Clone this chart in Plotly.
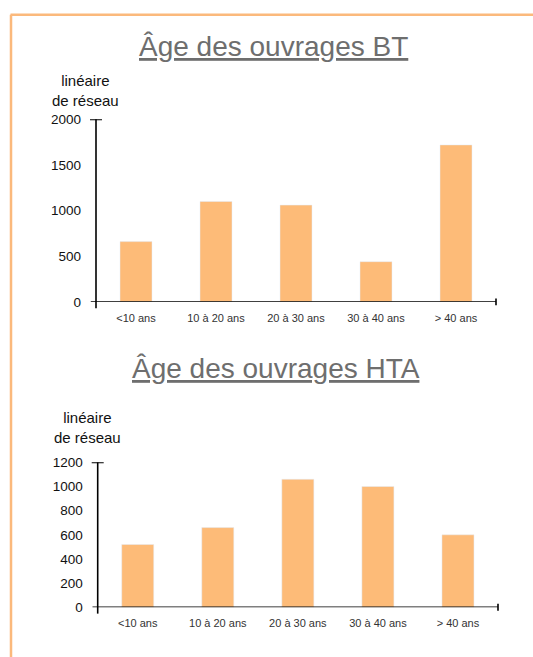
import plotly.graph_objects as go

categories = ["<10 ans", "10 à 20 ans", "20 à 30 ans", "30 à 40 ans", "> 40 ans"]
bt_values = [660, 1100, 1060, 440, 1720]
hta_values = [520, 660, 1060, 1000, 600]
bt_ticks = [0, 500, 1000, 1500, 2000]
hta_ticks = [0, 200, 400, 600, 800, 1000, 1200]
title_bt = "Âge des ouvrages BT"
title_hta = "Âge des ouvrages HTA"
ylabel = "linéaire<br>de réseau"

W, H = 533, 657
BAR = "#FDBB78"
BORDER = "#FBB97C"
FONT = "Liberation Sans, Arial, Helvetica, sans-serif"

def py(px):
    return 1 - px / H

fig = go.Figure()
fig.add_trace(go.Bar(x=categories, y=bt_values, marker_color=BAR, width=0.4,
                     xaxis="x", yaxis="y", showlegend=False, hoverinfo="x+y"))
fig.add_trace(go.Bar(x=categories, y=hta_values, marker_color=BAR, width=0.4,
                     xaxis="x2", yaxis="y2", showlegend=False, hoverinfo="x+y"))

xcommon = dict(showline=False, showgrid=False, zeroline=False, ticks="",
               tickfont=dict(size=11, color="#333333", family=FONT),
               ticklabelstandoff=8, range=[-0.5, 4.5], fixedrange=True)
ycommon = dict(showline=False, showgrid=False, zeroline=False, ticks="",
               tickfont=dict(size=13.5, color="#111111", family=FONT),
               ticklabelstandoff=14, fixedrange=True)

fig.update_layout(
    width=W, height=H, margin=dict(l=0, r=0, t=0, b=0),
    paper_bgcolor="white", plot_bgcolor="white",
    font=dict(family=FONT),
    xaxis=dict(domain=[96 / W, 496 / W], anchor="y", **xcommon),
    yaxis=dict(domain=[py(301.7), py(115)], anchor="x", range=[0, 2000],
               tickvals=bt_ticks, **ycommon),
    xaxis2=dict(domain=[97.7 / W, 498 / W], anchor="y2", **xcommon),
    yaxis2=dict(domain=[py(614.3), py(466)], anchor="x2", range=[0, 1200],
                tickvals=hta_ticks, **ycommon),
    bargap=0.6,
)

shapes = []
# orange frame (top and left edges)
shapes.append(dict(type="line", xref="paper", yref="paper", x0=10.5 / W, x1=1.02,
                   y0=py(8), y1=py(8), line=dict(color=BORDER, width=2.5)))
shapes.append(dict(type="line", xref="paper", yref="paper", x0=11 / W, x1=11 / W,
                   y0=py(8), y1=-0.02, line=dict(color=BORDER, width=2.5)))

for xa, ya, ymax, ypx in [("x", "y", 2000, 186.7), ("x2", "y2", 1200, 148.3)]:
    lw = 1.6
    shapes.append(dict(type="line", xref=f"{xa} domain", yref=ya, x0=-0.013, x1=1,
                       y0=0, y1=0, line=dict(color="black", width=lw)))
    shapes.append(dict(type="line", xref=f"{xa} domain", yref=f"{ya} domain", x0=0, x1=0,
                       y0=-6.5 / ypx, y1=1, line=dict(color="black", width=lw)))
    shapes.append(dict(type="line", xref=f"{xa} domain", yref=ya, x0=-0.015, x1=0.015,
                       y0=ymax, y1=ymax, line=dict(color="black", width=lw)))
    shapes.append(dict(type="line", xref=f"{xa} domain", yref=f"{ya} domain", x0=1, x1=1,
                       y0=-3.5 / ypx, y1=3.5 / ypx, line=dict(color="black", width=lw)))

fig.update_layout(shapes=shapes)

annotations = [
    dict(text=f"<u>{title_bt}</u>", x=273 / W, y=py(40), xref="paper", yref="paper",
         showarrow=False, xanchor="center", yanchor="middle",
         font=dict(size=28, color="#6E6E6E", family=FONT)),
    dict(text=f"<u>{title_hta}</u>", x=276 / W, y=py(370), xref="paper", yref="paper",
         showarrow=False, xanchor="center", yanchor="middle",
         font=dict(size=28, color="#6E6E6E", family=FONT)),
    dict(text=ylabel, x=85 / W, y=py(85), xref="paper", yref="paper",
         showarrow=False, xanchor="center", yanchor="middle",
         font=dict(size=15, color="#111111", family=FONT)),
    dict(text=ylabel, x=87 / W, y=py(430), xref="paper", yref="paper",
         showarrow=False, xanchor="center", yanchor="middle",
         font=dict(size=15, color="#111111", family=FONT)),
]
fig.update_layout(annotations=annotations)

fig.write_html("out.html", config={"displayModeBar": False},
               post_script="document.body.style.margin='0';document.body.style.overflow='hidden';")
